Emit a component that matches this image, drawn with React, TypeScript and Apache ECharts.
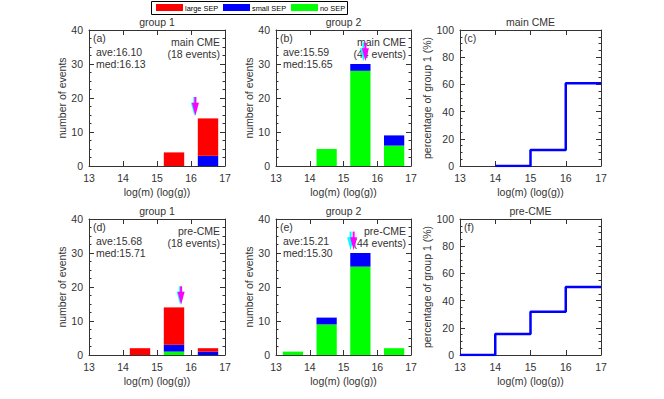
import React, { useEffect, useRef } from 'react';
import * as echarts from 'echarts';

const FONT = '"Liberation Sans", Arial, Helvetica, sans-serif';
const TXT = '#333';

// bins
const binCenters = [13.5, 14.5, 15.5, 16.5];
const binEdges = [13, 14, 15, 16, 17];
const barHalfWidth = 0.3;

// main CME, group 1
const mainG1Large = [0, 0, 4, 11];
const mainG1Small = [0, 0, 0, 3];
const mainG1None = [0, 0, 0, 0];
// main CME, group 2
const mainG2Large = [0, 0, 0, 0];
const mainG2Small = [0, 0, 2, 3];
const mainG2None = [0, 5, 28, 6];
// pre-CME, group 1
const preG1Large = [0, 2, 11, 1];
const preG1Small = [0, 0, 2, 1];
const preG1None = [0, 0, 1, 0];
// pre-CME, group 2
const preG2Large = [0, 0, 0, 0];
const preG2Small = [0, 2, 4, 0];
const preG2None = [1, 9, 26, 2];

// percentage of group 1 per bin (null = no events)
const mainPct = [null, 0, 11.8, 60.9];
const prePct = [0, 15.4, 31.8, 50];

// average / median markers: [ave, med]
const mainG1Stats = [16.10, 16.13];
const mainG2Stats = [15.59, 15.65];
const preG1Stats = [15.68, 15.71];
const preG2Stats = [15.21, 15.30];
// arrow vertical span [top, tip] in events
const mainG1Arrow = [20.3, 14.8];
const mainG2Arrow = [36.3, 30.8];
const preG1Arrow = [20.2, 14.8];
const preG2Arrow = [36.3, 30.8];

const panelTags = ['(a)', '(b)', '(c)', '(d)', '(e)', '(f)'];
const panelTitles = ['group 1', 'group 2', 'main CME', 'group 1', 'group 2', 'pre-CME'];
const caseNames = ['main CME', 'main CME', 'pre-CME', 'pre-CME'];
const eventCounts = ['(18 events)', '(44 events)', '(18 events)', '(44 events)'];

const xTitle = 'log(m) (log(g))';
const yTitleHist = 'number of events';
const yTitlePct = 'percentage of group 1 (%)';

const legendNames = ['large SEP', 'small SEP', 'no SEP'];
const COLORS: Record<string, string> = {
  'large SEP': '#ff0000',
  'small SEP': '#0000ff',
  'no SEP': '#00ff00',
};

// layout
const colLeft = [89, 276, 460];
const colWidth = [136, 135, 141];
const rowTop = [30, 219];
const rowHeight = [136, 136];

function buildOption() {
  const grid: any[] = [];
  const xAxis: any[] = [];
  const yAxis: any[] = [];
  const series: any[] = [];
  const graphic: any[] = [];

  const axisLine = { show: true, onZero: false, lineStyle: { color: '#333', width: 1 } };
  const tick = { show: true, inside: true, length: 5, lineStyle: { color: '#333', width: 1 } };
  const minor = { show: true, splitNumber: 4, length: 2.5, lineStyle: { color: '#333', width: 1 } };
  const lbl = { fontSize: 10.5, color: TXT, fontFamily: FONT };

  const hist = [
    { large: mainG1Large, small: mainG1Small, none: mainG1None, stats: mainG1Stats, arrow: mainG1Arrow },
    { large: mainG2Large, small: mainG2Small, none: mainG2None, stats: mainG2Stats, arrow: mainG2Arrow },
    { large: preG1Large, small: preG1Small, none: preG1None, stats: preG1Stats, arrow: preG1Arrow },
    { large: preG2Large, small: preG2Small, none: preG2None, stats: preG2Stats, arrow: preG2Arrow },
  ];

  const barRender = (params: any, api: any) => {
    const x = api.value(0);
    const y0 = api.value(1);
    const y1 = api.value(2);
    if (y1 <= y0) return null;
    const a = api.coord([x - barHalfWidth, y1]);
    const b = api.coord([x + barHalfWidth, y0]);
    return {
      type: 'rect',
      shape: { x: a[0], y: a[1], width: b[0] - a[0], height: b[1] - a[1] },
      style: { fill: api.visual('color') },
    };
  };

  for (let r = 0; r < 2; r++) {
    for (let c = 0; c < 3; c++) {
      const g = r * 3 + c;
      const left = colLeft[c];
      const top = rowTop[r];
      const width = colWidth[c];
      const height = rowHeight[r];
      const isPct = c === 2;
      grid.push({ left, top, width, height, containLabel: false });

      xAxis.push({
        gridIndex: g, type: 'value', position: 'bottom', min: 13, max: 17, interval: 1,
        axisLine, axisTick: tick, splitLine: { show: false },
        axisLabel: { ...lbl, margin: 6 },
        name: xTitle, nameLocation: 'middle', nameGap: 20,
        nameTextStyle: { ...lbl },
      });
      xAxis.push({
        gridIndex: g, type: 'value', position: 'top', min: 13, max: 17, interval: 1,
        axisLine, axisTick: tick, splitLine: { show: false }, axisLabel: { show: false },
      });
      const yMax = isPct ? 100 : 40;
      const yInt = isPct ? 20 : 10;
      yAxis.push({
        gridIndex: g, type: 'value', position: 'left', min: 0, max: yMax, interval: yInt,
        axisLine, axisTick: tick, minorTick: minor, splitLine: { show: false }, minorSplitLine: { show: false },
        axisLabel: { ...lbl, margin: 6 },
        name: isPct ? yTitlePct : yTitleHist, nameLocation: 'middle', nameGap: isPct ? 23 : 18,
        nameTextStyle: { ...lbl },
      });
      yAxis.push({
        gridIndex: g, type: 'value', position: 'right', min: 0, max: yMax, interval: yInt,
        axisLine, axisTick: tick, minorTick: minor, splitLine: { show: false }, axisLabel: { show: false },
      });

      const xi = g * 2;
      const yi = g * 2;

      graphic.push({
        type: 'text', x: left + width / 2, y: top - 8,
        style: { text: panelTitles[g], fontSize: 10.5, fontFamily: FONT, fill: TXT, align: 'center', verticalAlign: 'middle' },
      });
      graphic.push({
        type: 'text', x: left + 4, y: top + 8,
        style: { text: panelTags[g], fontSize: 10.5, fontFamily: FONT, fill: TXT, align: 'left', verticalAlign: 'middle' },
      });

      if (isPct) {
        const pct = r === 0 ? mainPct : prePct;
        const data: any[] = [];
        let last: number | null = null;
        pct.forEach((v, i) => {
          if (v !== null) { data.push([binEdges[i], v]); last = v; }
        });
        data.push([binEdges[binEdges.length - 1], last]);
        series.push({
          type: 'line', xAxisIndex: xi, yAxisIndex: yi, step: 'end', data,
          showSymbol: false, symbol: 'none',
          lineStyle: { color: '#0000ff', width: 2.5 }, itemStyle: { color: '#0000ff' },
          silent: true,
        });
      } else {
        const h = hist[r * 2 + c];
        const parts: [string, number[]][] = [['no SEP', h.none], ['small SEP', h.small], ['large SEP', h.large]];
        const base = binCenters.map(() => 0);
        parts.forEach(([name, arr]) => {
          const data = binCenters.map((x, i) => {
            const y0 = base[i];
            const y1 = base[i] + arr[i];
            base[i] = y1;
            return [x, y0, y1];
          });
          series.push({
            type: 'custom', name, xAxisIndex: xi, yAxisIndex: yi,
            data, renderItem: barRender,
            itemStyle: { color: COLORS[name] },
            encode: { x: 0, y: [1, 2] },
            silent: true,
          });
        });
        const arrowColors = ['#00ffff', '#ff00ff'];
        h.stats.forEach((sv, k) => {
          series.push({
            type: 'custom', xAxisIndex: xi, yAxisIndex: yi, silent: true,
            data: [[sv, h.arrow[0], h.arrow[1]]],
            encode: { x: 0, y: [1, 2] },
            renderItem: (params: any, api: any) => {
              const p0 = api.coord([api.value(0), api.value(1)]);
              const p1 = api.coord([api.value(0), api.value(2)]);
              const headH = 13;
              const headW = 7;
              const col = arrowColors[k];
              return {
                type: 'group',
                children: [
                  { type: 'line', shape: { x1: p0[0], y1: p0[1], x2: p1[0], y2: p1[1] - headH + 1 }, style: { stroke: col, lineWidth: 2 } },
                  {
                    type: 'polygon',
                    shape: { points: [[p1[0] - headW / 2, p1[1] - headH], [p1[0] + headW / 2, p1[1] - headH], [p1[0], p1[1]]] },
                    style: { fill: col },
                  },
                ],
              };
            },
          });
        });
        const idx = r * 2 + c;
        graphic.push({
          type: 'text', x: left + 7, y: top + 22,
          style: { text: 'ave:' + h.stats[0].toFixed(2), fontSize: 10.5, fontFamily: FONT, fill: TXT, align: 'left', verticalAlign: 'middle' },
        });
        graphic.push({
          type: 'text', x: left + 7, y: top + 34,
          style: { text: 'med:' + h.stats[1].toFixed(2), fontSize: 10.5, fontFamily: FONT, fill: TXT, align: 'left', verticalAlign: 'middle' },
        });
        graphic.push({
          type: 'text', x: left + width - 5, y: top + 12,
          style: { text: caseNames[idx], fontSize: 10.5, fontFamily: FONT, fill: TXT, align: 'right', verticalAlign: 'middle' },
        });
        graphic.push({
          type: 'text', x: left + width - 5, y: top + 24,
          style: { text: eventCounts[idx], fontSize: 10.5, fontFamily: FONT, fill: TXT, align: 'right', verticalAlign: 'middle' },
        });
      }
    }
  }

  // legend box
  graphic.push({
    type: 'rect', shape: { x: 151.5, y: 1.5, width: 196, height: 13 },
    style: { fill: '#fff', stroke: '#000', lineWidth: 1 }, z: 10,
  });
  const legX = [156, 223, 291];
  legendNames.forEach((n, i) => {
    graphic.push({
      type: 'rect', shape: { x: legX[i], y: 4, width: 27, height: 7 },
      style: { fill: COLORS[n] }, z: 11,
    });
    graphic.push({
      type: 'text', x: legX[i] + 29, y: 8,
      style: { text: n, fontSize: 7.4, fontFamily: FONT, fill: '#000', align: 'left', verticalAlign: 'middle' }, z: 11,
    });
  });

  return {
    animation: false,
    backgroundColor: '#fff',
    textStyle: { fontFamily: FONT },
    grid, xAxis, yAxis, series, graphic,
  };
}

export default function App() {
  const ref = useRef<HTMLDivElement>(null);
  useEffect(() => {
    const chart = echarts.init(ref.current!, null, { renderer: 'svg' });
    chart.setOption(buildOption() as any);
    return () => chart.dispose();
  }, []);
  return <div ref={ref} style={{ width: 664, height: 399, position: 'absolute', left: 0, top: 0 }} />;
}
